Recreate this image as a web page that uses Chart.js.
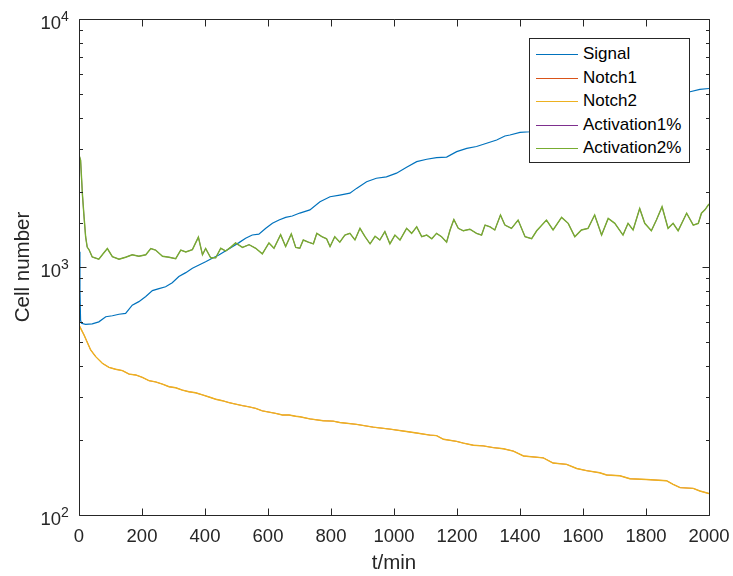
<!DOCTYPE html>
<html>
<head>
<meta charset="utf-8">
<script src="https://cdn.jsdelivr.net/npm/chart.js@4.4.1/dist/chart.umd.min.js"></script>
<style>
  html, body { margin: 0; padding: 0; background: #ffffff; }
  #wrap { position: relative; width: 733px; height: 576px; overflow: hidden; }
  #legend { position: absolute; background: #ffffff; border: 1px solid #262626; box-sizing: border-box;
            font-family: "Liberation Sans", Arial, sans-serif; font-size: 17px; color: #000000; }
  .lg-row { position: absolute; left: 0; height: 20px; width: 100%; }
  .lg-line { position: absolute; height: 1px; top: 10px; }
  .lg-text { position: absolute; top: 0; line-height: 20px; white-space: nowrap; }
</style>
</head>
<body>
<div id="wrap">
  <canvas id="c" width="733" height="576"></canvas>
  <div id="legend"></div>
</div>
<script>
// ---------------- data ----------------
const seriesNames  = ["Signal", "Notch1", "Notch2", "Activation1%", "Activation2%"];
const seriesColors = ["#0072BD", "#D95319", "#EDB120", "#7E2F8E", "#77AC30"];

const xTickStep = 200;
const xMin = 0, xMax = 2000;
const yMin = 100, yMax = 10000;
const xTitle = "t/min";
const yTitle = "Cell number";

const signalT = [0, 3, 5, 8, 21, 42, 63, 85, 106, 127,
                 148, 169, 190, 212, 233, 254, 275, 296, 317, 339,
                 360, 381, 402, 423, 444, 466, 487, 508, 529, 550,
                 571, 593, 614, 635, 656, 677, 701, 733, 765, 797,
                 828, 860, 881, 913, 944, 976, 1008, 1040, 1072, 1104,
                 1135, 1167, 1199, 1231, 1262, 1294, 1326, 1352, 1368, 1400,
                 1432, 1500, 1600, 1700, 1800, 1900, 1940, 1971, 2000];
const signalV = [1153, 808, 611, 593, 587, 590, 601, 630, 636, 645,
                 650, 702, 725, 760, 803, 818, 832, 864, 915, 949,
                 989, 1019, 1050, 1084, 1118, 1164, 1208, 1254, 1306, 1346,
                 1357, 1432, 1500, 1548, 1586, 1605, 1650, 1700, 1833, 1920,
                 1950, 1985, 2075, 2207, 2279, 2310, 2390, 2525, 2660, 2720,
                 2760, 2775, 2918, 3010, 3060, 3155, 3252, 3375, 3406, 3490,
                 3510, 3700, 3950, 4250, 4600, 4950, 5090, 5200, 5245];

const notch1T = [0, 16, 37, 53, 74, 95, 116, 138, 159, 180,
                 201, 222, 243, 265, 286, 307, 328, 349, 370, 392,
                 413, 434, 455, 476, 497, 519, 540, 561, 582, 603,
                 624, 646, 667, 688, 701, 733, 775, 807, 828, 881,
                 934, 987, 1040, 1072, 1114, 1135, 1157, 1199, 1220, 1252,
                 1283, 1315, 1347, 1379, 1411, 1474, 1505, 1548, 1580, 1611,
                 1653, 1675, 1717, 1749, 1802, 1865, 1886, 1908, 1950, 1971,
                 2000];
const notch1V = [583, 532, 463, 435, 409, 394, 387, 382, 370, 367,
                 359, 348, 344, 337, 329, 326, 319, 314, 311, 305,
                 299, 293, 289, 284, 280, 276, 273, 269, 263, 260,
                 257, 253, 253, 250, 249, 244, 240, 239, 236, 232,
                 226, 222, 217, 214, 210, 209, 202, 198, 195, 191,
                 190, 187, 185, 181, 173, 170, 162, 160, 154, 151,
                 148, 145, 144, 140, 139, 137.5, 133, 129, 128, 125,
                 122];
const notch2T = notch1T;   // Notch2 lies exactly on Notch1 in the picture
const notch2V = notch1V;

const act1T = [0, 5, 11, 16, 21, 26, 32, 42, 63, 74,
               90, 106, 127, 148, 169, 190, 212, 228, 243, 265,
               286, 307, 323, 339, 360, 379, 392, 402, 418, 434,
               450, 466, 481, 497, 519, 540, 561, 582, 603, 619,
               640, 656, 674, 688, 701, 712, 728, 744, 755, 771,
               786, 797, 812, 828, 844, 860, 876, 892, 908, 924,
               940, 955, 971, 987, 1003, 1019, 1040, 1056, 1072, 1088,
               1104, 1120, 1135, 1151, 1167, 1178, 1190, 1204, 1220, 1241,
               1262, 1278, 1289, 1305, 1320, 1338, 1352, 1373, 1394, 1416,
               1437, 1453, 1484, 1505, 1532, 1553, 1574, 1595, 1616, 1637,
               1659, 1680, 1701, 1727, 1743, 1759, 1780, 1796, 1817, 1833,
               1851, 1870, 1886, 1902, 1929, 1950, 1966, 1976, 1987, 2000];
const act1V = [2830, 2700, 1950, 1596, 1325, 1203, 1173, 1097, 1075, 1120,
               1187, 1100, 1075, 1095, 1120, 1105, 1120, 1187, 1170, 1105,
               1095, 1080, 1170, 1150, 1175, 1320, 1120, 1187, 1090, 1090,
               1190, 1160, 1200, 1250, 1200, 1230, 1190, 1130, 1250, 1190,
               1350, 1210, 1360, 1200, 1190, 1285, 1260, 1240, 1367, 1325,
               1300, 1208, 1325, 1260, 1345, 1367, 1285, 1432, 1325, 1240,
               1330, 1285, 1390, 1240, 1345, 1285, 1432, 1367, 1452, 1325,
               1345, 1300, 1367, 1325, 1260, 1410, 1555, 1432, 1400, 1420,
               1367, 1345, 1476, 1452, 1410, 1620, 1476, 1432, 1546, 1325,
               1300, 1400, 1546, 1410, 1585, 1500, 1325, 1410, 1432, 1620,
               1345, 1570, 1500, 1345, 1500, 1410, 1722, 1500, 1400, 1546,
               1750, 1432, 1500, 1400, 1648, 1476, 1500, 1648, 1700, 1795];
const act2T = act1T;       // Activation2% lies exactly on Activation1%
const act2V = act1V;

// ---------------- chart ----------------
const AXIS_COLOR = "#262626";
const FONT = '"Liberation Sans", Arial, Helvetica, sans-serif';
const seriesT = [signalT, notch1T, notch2T, act1T, act2T];
const seriesV = [signalV, notch1V, notch2V, act1V, act2V];
// covered series drawn a bit thinner so the covering line hides them
const seriesWidths = [1.2, 0.8, 1.4, 0.8, 1.4];

const datasets = seriesNames.map((name, i) => ({
  label: name,
  data: seriesT[i].map((t, k) => ({ x: t, y: seriesV[i][k] })),
  borderColor: seriesColors[i],
  backgroundColor: seriesColors[i],
  borderWidth: seriesWidths[i],
  pointRadius: 0,
  tension: 0,
  fill: false,
  order: seriesNames.length - 1 - i
}));

function isPow10(v) { const l = Math.log10(v); return Math.abs(l - Math.round(l)) < 1e-9; }

const matlabAxes = {
  id: 'matlabAxes',
  afterDatasetsDraw(chart) {
    const { ctx, chartArea: a, scales: { x, y } } = chart;
    ctx.save();
    ctx.strokeStyle = AXIS_COLOR;
    ctx.lineWidth = 1;
    const L = a.left + 0.5, R = a.right + 0.5, T = a.top + 0.5, B = a.bottom + 0.5;
    ctx.beginPath();
    x.ticks.forEach(t => {
      const px = Math.round(x.getPixelForValue(t.value)) + 0.5;
      ctx.moveTo(px, B); ctx.lineTo(px, B - 7);
      ctx.moveTo(px, T); ctx.lineTo(px, T + 7);
    });
    y.ticks.forEach(t => {
      const len = isPow10(t.value) ? 7 : 3.5;
      const py = Math.round(y.getPixelForValue(t.value)) + 0.5;
      ctx.moveTo(L, py); ctx.lineTo(L + len, py);
      ctx.moveTo(R, py); ctx.lineTo(R - len, py);
    });
    ctx.rect(L, T, R - L, B - T);
    ctx.stroke();
    // y tick labels: 10 with superscript exponent
    ctx.fillStyle = AXIS_COLOR;
    ctx.textBaseline = 'alphabetic';
    y.ticks.forEach(t => {
      if (!isPow10(t.value)) return;
      const py = y.getPixelForValue(t.value);
      const e = Math.round(Math.log10(t.value));
      ctx.font = '18.5px ' + FONT;
      ctx.textAlign = 'right';
      ctx.fillText('10', a.left - 18, py + 10);
      ctx.font = '14px ' + FONT;
      ctx.textAlign = 'left';
      ctx.fillText(String(e), a.left - 18, py + 2);
    });
    ctx.restore();
  }
};

new Chart(document.getElementById('c'), {
  type: 'line',
  data: { datasets },
  options: {
    responsive: false,
    devicePixelRatio: 1,
    animation: false,
    parsing: true,
    layout: { padding: { left: 0, top: 19, right: 24, bottom: 0 } },
    plugins: { legend: { display: false }, tooltip: { enabled: false } },
    scales: {
      x: {
        type: 'linear', min: xMin, max: xMax,
        grid: { display: false, drawTicks: false },
        border: { display: false },
        ticks: { stepSize: xTickStep, color: AXIS_COLOR, padding: 11, maxRotation: 0, autoSkip: false,
                 font: { family: FONT, size: 18.5 },
                 callback: (v) => String(v) },
        title: { display: true, text: xTitle, color: AXIS_COLOR, padding: { top: 0, bottom: 0 },
                 font: { family: FONT, size: 20.5 } },
        afterFit(s) { s.height = 61; s.paddingLeft = 0; s.paddingRight = 0; }
      },
      y: {
        type: 'logarithmic', min: yMin, max: yMax,
        grid: { display: false, drawTicks: false },
        border: { display: false },
        ticks: { display: false, autoSkip: false },
        title: { display: true, text: yTitle, color: AXIS_COLOR, padding: { top: 11, bottom: 0 },
                 font: { family: FONT, size: 20.5 } },
        afterFit(s) { s.width = 79; s.paddingTop = 0; s.paddingBottom = 0; }
      }
    }
  },
  plugins: [matlabAxes]
});

// ---------------- legend (HTML, inside the plot box) ----------------
(function buildLegend() {
  const lg = document.getElementById('legend');
  lg.style.left = '529px'; lg.style.top = '38px';
  lg.style.width = '161px'; lg.style.height = '125px';
  seriesNames.forEach((name, i) => {
    const row = document.createElement('div');
    row.className = 'lg-row';
    row.style.top = (5 + i * 23.6) + 'px';
    const line = document.createElement('div');
    line.className = 'lg-line';
    line.style.left = '6px'; line.style.width = '42px';
    line.style.background = seriesColors[i];
    const txt = document.createElement('div');
    txt.className = 'lg-text';
    txt.style.left = '53px';
    txt.textContent = name;
    row.appendChild(line); row.appendChild(txt);
    lg.appendChild(row);
  });
})();
</script>
</body>
</html>
